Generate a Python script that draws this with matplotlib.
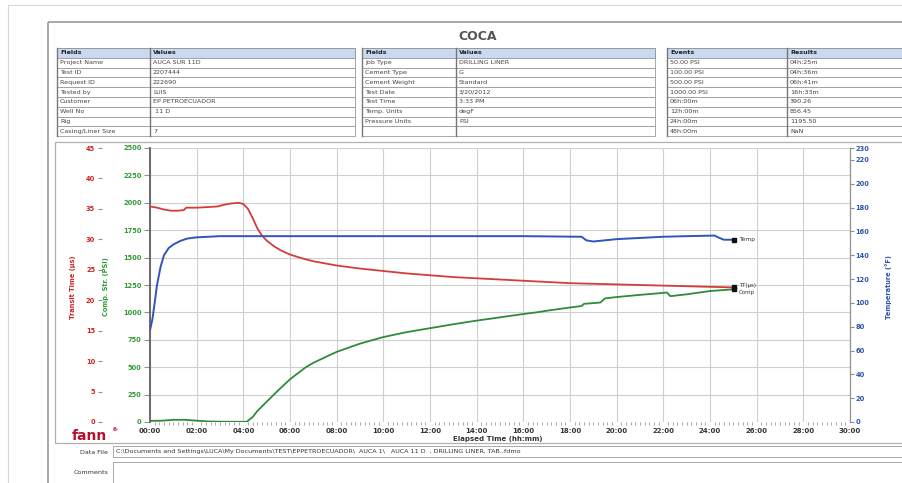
import matplotlib
matplotlib.use("Agg")
import matplotlib.pyplot as plt
from matplotlib.patches import Rectangle
from matplotlib.ticker import FuncFormatter, MultipleLocator

# ---- data ----
# transit time (us)
t_tt = [0, 0.3, 0.6, 0.9, 1.2, 1.45, 1.55, 2.0, 2.5, 2.9, 3.2, 3.5, 3.8, 4.0, 4.2, 4.4,
        4.6, 4.8, 5.0, 5.3, 5.6, 6.0, 6.5, 7.0, 8.0, 9.0, 10.0, 11.0, 12.0, 13.0, 14.0,
        15.0, 16.0, 17.0, 18.0, 19.0, 20.0, 21.0, 22.0, 23.0, 24.0, 25.05]
tt = [35.4, 35.2, 34.9, 34.7, 34.7, 34.8, 35.2, 35.2, 35.3, 35.4, 35.7, 35.9, 36.0, 35.8,
      35.0, 33.5, 31.8, 30.6, 29.8, 28.9, 28.2, 27.5, 26.9, 26.4, 25.7, 25.2, 24.8, 24.4,
      24.1, 23.8, 23.6, 23.4, 23.2, 23.0, 22.8, 22.7, 22.6, 22.5, 22.4, 22.3, 22.2, 22.1]

# temperature (degF)
t_temp = [0, 0.1, 0.2, 0.3, 0.45, 0.6, 0.8, 1.0, 1.3, 1.6, 2.0, 2.5, 3.0, 5, 8, 12, 16,
          18.5, 18.7, 19.0, 19.5, 20.0, 21.0, 22.0, 23.0, 24.2, 24.4, 24.6, 25.05]
temp = [77, 86, 100, 115, 130, 140, 146, 149, 152, 154, 155, 155.5, 156, 156, 156, 156,
        156, 155.5, 152.5, 151.5, 152.5, 153.5, 154.5, 155.5, 156, 156.5, 154.5, 153, 153]

# compressive strength (PSI)
t_cs = [0, 0.5, 1.0, 1.5, 2.0, 2.5, 3.0, 3.5, 4.0, 4.15, 4.42, 4.6, 5.0, 5.5, 6.0, 6.68,
        7.0, 8.0, 9.0, 10.0, 11.0, 12.0, 13.0, 14.0, 15.0, 16.0, 16.55, 17.0, 18.0, 18.5,
        18.6, 19.3, 19.5, 20.0, 21.0, 22.0, 22.15, 22.3, 23.0, 24.0, 25.05]
cs = [10, 12, 20, 20, 12, 5, 3, 2, 2, 2, 50, 100, 185, 290, 390, 500, 540, 640, 715, 775,
      820, 856, 892, 925, 955, 985, 1000, 1015, 1045, 1058, 1078, 1090, 1128, 1140, 1160,
      1178, 1182, 1148, 1165, 1195, 1211]

fields1 = ["Project Name", "Test ID", "Request ID", "Tested by", "Customer", "Well No", "Rig", "Casing/Liner Size"]
values1 = ["AUCA SUR 11D", "2207444", "222690", "LUIS", "EP PETROECUADOR", " 11 D", "", "7"]
fields2 = ["Job Type", "Cement Type", "Cement Weight", "Test Date", "Test Time", "Temp. Units", "Pressure Units", ""]
values2 = ["DRILLING LINER", "G", "Standard", "3/20/2012", "3:33 PM", "degF", "PSI", ""]
events = ["50.00 PSI", "100.00 PSI", "500.00 PSI", "1000.00 PSI", "06h:00m", "12h:00m", "24h:00m", "48h:00m"]
results = ["04h:25m", "04h:36m", "06h:41m", "16h:33m", "390.26", "856.45", "1195.50", "NaN"]

W, H = 902, 483
fig = plt.figure(figsize=(W / 100, H / 100), dpi=100)

# page / report frame in pixel coordinates
bg = fig.add_axes([0, 0, 1, 1])
bg.set_xlim(0, W)
bg.set_ylim(H, 0)
bg.axis("off")

bg.plot([8, W], [5, 5], color="#d8d8d8", lw=0.8)
bg.plot([8, 8], [5, H], color="#d8d8d8", lw=0.8)
bg.add_patch(Rectangle((48, 22), W, H, fill=False, ec="#9a9a9a", lw=1.2))
bg.add_patch(Rectangle((55, 142), W, 301, fill=False, ec="#b0b0b0", lw=0.9))
bg.text(478, 36, "COCA", ha="center", va="center", fontsize=9, fontweight="bold", color="#555555")


def draw_table(x0, xs, x1, head, col1, col2):
    y0, rh = 48, 9.8
    bg.add_patch(Rectangle((x0, y0), x1 - x0, rh, fc="#c9daf0", ec="#8a8a8a", lw=0.6))
    bg.text(x0 + 3, y0 + rh / 2, head[0], fontsize=4.6, fontweight="bold", va="center", color="#222222")
    bg.text(xs + 3, y0 + rh / 2, head[1], fontsize=4.6, fontweight="bold", va="center", color="#222222")
    for i, (a, b) in enumerate(zip(col1, col2)):
        y = y0 + rh * (i + 1)
        bg.add_patch(Rectangle((x0, y), x1 - x0, rh, fc="white", ec="#9a9a9a", lw=0.6))
        bg.text(x0 + 3, y + rh / 2, a, fontsize=4.6, va="center", color="#444444")
        bg.text(xs + 3, y + rh / 2, b, fontsize=4.6, va="center", color="#444444")
    bg.plot([xs, xs], [y0, y0 + rh * 9], color="#777777", lw=1.0)
    bg.plot([x0, x0], [y0, y0 + rh * 9], color="#777777", lw=1.0)


draw_table(57, 150, 355, ("Fields", "Values"), fields1, values1)
draw_table(362, 456, 655, ("Fields", "Values"), fields2, values2)
draw_table(667, 787, 905, ("Events", "Results"), events, results)

# data file / comments rows
bg.text(108, 452, "Data File", ha="right", va="center", fontsize=4.6, color="#333333")
bg.add_patch(Rectangle((113, 446), 800, 11, fc="white", ec="#9a9a9a", lw=0.6))
bg.text(116, 451.5, "C:\\Documents and Settings\\LUCA\\My Documents\\TEST\\EPPETROECUADOR\\  AUCA 1\\   AUCA 11 D  , DRILLING LINER, TAB..fdmo",
        va="center", fontsize=4.6, color="#333333")
bg.text(108, 473, "Comments", ha="right", va="center", fontsize=4.6, color="#333333")
bg.add_patch(Rectangle((113, 462), 800, 30, fc="white", ec="#9a9a9a", lw=0.6))

# fann logo
bg.text(72, 436, "fann", fontsize=10, fontweight="bold", color="#b0122e", va="center")
bg.text(111, 430, "®", fontsize=4.5, fontweight="bold", color="#b0122e", va="center")

# ---- chart ----
L, R, T, B = 150, 850, 148, 422
ax = fig.add_axes([L / W, 1 - B / H, (R - L) / W, (B - T) / H])
ax.set_xlim(0, 30)
ax.set_ylim(0, 2500)
ax.set_yticks(range(0, 2501, 250))
ax.xaxis.set_major_locator(MultipleLocator(2))
ax.xaxis.set_minor_locator(MultipleLocator(0.2))
ax.xaxis.set_major_formatter(FuncFormatter(lambda v, p: "%02d:00" % int(round(v))))
ax.grid(True, which="major", color="#cfcfcf", lw=0.8)
ax.set_axisbelow(True)
for s in ["top", "bottom"]:
    ax.spines[s].set_visible(False)
ax.spines["left"].set_color("#606060")
ax.spines["left"].set_linewidth(1.3)
ax.spines["right"].set_color("#909090")
ax.tick_params(axis="y", colors="#909090", labelcolor="#2f9a32", labelsize=4.8, length=4, pad=2)
ax.tick_params(axis="x", which="major", colors="#909090", labelcolor="#333333", labelsize=5, length=0, pad=4)
ax.tick_params(axis="x", which="minor", colors="#9a9a9a", length=2, width=0.6)
for lb in ax.get_yticklabels() + ax.get_xticklabels():
    lb.set_fontweight("bold")
ax.set_xlabel("Elapsed Time (hh:mm)", fontsize=5, fontweight="bold", color="#333333")
ax.xaxis.set_label_coords(0.497, -0.052)

ax_tt = ax.twinx()
ax_tt.set_ylim(0, 45)
ax_tt.set_yticks(range(0, 46, 5))
ax_tt.yaxis.set_ticks_position("left")
ax_tt.spines["left"].set_position(("outward", 34.5))
for s in ["left", "right", "top", "bottom"]:
    ax_tt.spines[s].set_visible(False)
ax_tt.tick_params(axis="y", colors="#909090", labelcolor="#cc2424", labelsize=4.8, length=3, pad=2)
for lb in ax_tt.get_yticklabels():
    lb.set_fontweight("bold")

ax_t = ax.twinx()
ax_t.set_ylim(0, 230)
ax_t.set_yticks(list(range(0, 221, 20)) + [230])
for s in ["left", "top", "bottom"]:
    ax_t.spines[s].set_visible(False)
ax_t.spines["right"].set_color("#909090")
ax_t.tick_params(axis="y", colors="#909090", labelcolor="#2a55a8", labelsize=4.8, length=3, pad=1)
for lb in ax_t.get_yticklabels():
    lb.set_fontweight("bold")

# curves
ax.plot(t_cs, cs, color="#2e8b3a", lw=1.3, solid_joinstyle="round")
ax.plot([t_cs[-1]], [cs[-1]], "s", color="#111111", ms=2.5)
ax_tt.plot(t_tt, tt, color="#d43c3c", lw=1.3, solid_joinstyle="round")
ax_tt.plot([t_tt[-1]], [tt[-1]], "s", color="#111111", ms=2.5)
ax_t.plot(t_temp, temp, color="#2f55b8", lw=1.4, solid_joinstyle="round")
ax_t.plot([t_temp[-1]], [temp[-1]], "s", color="#111111", ms=2.5)

ax_t.annotate("Temp", (t_temp[-1], temp[-1]), xytext=(3, 0), textcoords="offset points",
              fontsize=4.3, color="#333333", va="center")
ax_tt.annotate("TT(µs)", (t_tt[-1], tt[-1]), xytext=(3, 1.5), textcoords="offset points",
               fontsize=4.0, color="#333333", va="center")
ax.annotate("Comp", (t_cs[-1], cs[-1]), xytext=(3, -2.5), textcoords="offset points",
            fontsize=4.0, color="#333333", va="center")

# axis titles
bg.text(73, 287, "Transit Time (µs)", rotation=90, ha="center", va="center",
        fontsize=4.8, fontweight="bold", color="#cc2424")
bg.text(106, 287, "Comp. Str. (PSI)", rotation=90, ha="center", va="center",
        fontsize=4.8, fontweight="bold", color="#2f9a32")
bg.text(889, 287, "Temperature (°F)", rotation=90, ha="center", va="center",
        fontsize=4.8, fontweight="bold", color="#2a55a8")

fig.savefig("out.png", dpi=100)
